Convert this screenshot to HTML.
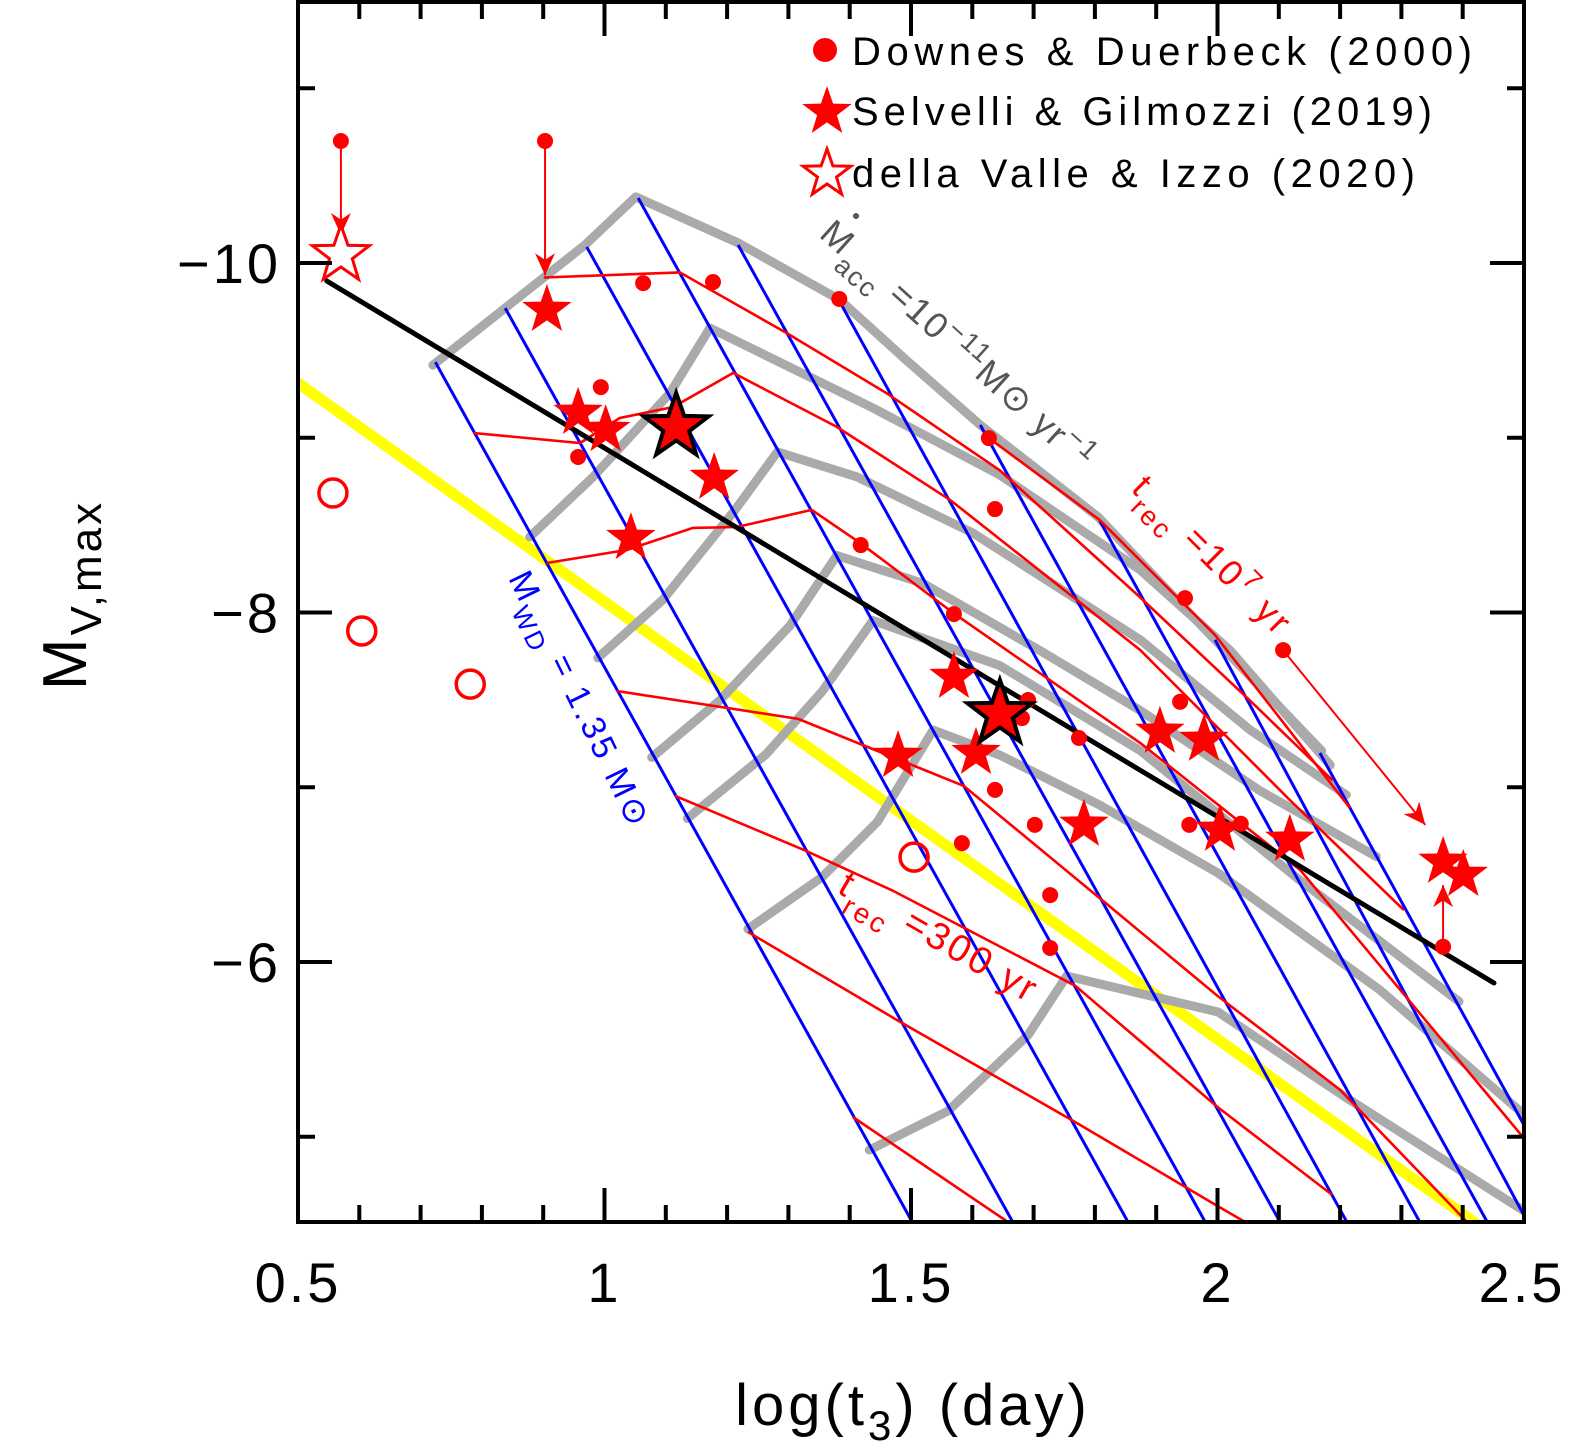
<!DOCTYPE html>
<html><head><meta charset="utf-8"><style>
body{margin:0;background:#fff}
svg{display:block;font-family:"Liberation Sans","DejaVu Sans",sans-serif}
</style></head><body>
<svg id="chart" width="1570" height="1448" viewBox="0 0 1570 1448" xmlns="http://www.w3.org/2000/svg">
<defs><clipPath id="plotclip"><rect x="298" y="2" width="1226" height="1220"/></clipPath></defs>
<rect width="1570" height="1448" fill="#fff"/>
<g id="grid" clip-path="url(#plotclip)"></g>
<g id="fits" clip-path="url(#plotclip)"></g>
<g id="marks"></g>
<g id="axes"></g>
<g id="labels">
  <text transform="translate(818,236) rotate(42)" font-size="36" letter-spacing="2" fill="#555">M<tspan font-size="27" dy="14">acc</tspan><tspan dy="-14"> =10</tspan><tspan font-size="27" dy="-14">−11</tspan><tspan dy="14">M⊙ yr</tspan><tspan font-size="27" dy="-14">−1</tspan></text>
  <circle cx="856" cy="216" r="3" fill="#555"/>
  <text transform="translate(1130,490) rotate(45)" font-size="36" letter-spacing="3" fill="#f00">t<tspan font-size="27" dy="14">rec</tspan><tspan dy="-14"> =10</tspan><tspan font-size="27" dy="-14">7</tspan><tspan dy="14"> yr</tspan></text>
  <text transform="translate(836,892) rotate(30)" font-size="38" letter-spacing="3" fill="#f00">t<tspan font-size="28" dy="15">rec</tspan><tspan dy="-15"> =300 yr</tspan></text>
  <text transform="translate(508,578) rotate(64)" font-size="34" letter-spacing="3" fill="#00f">M<tspan font-size="26" dy="12">WD</tspan><tspan dy="-12"> = 1.35 M⊙</tspan></text>
</g>
<g id="legend">
  <circle cx="825" cy="50" r="12" fill="#f00"/>
  <text x="852" y="65" font-size="40" textLength="620" lengthAdjust="spacing">Downes &amp; Duerbeck (2000)</text>
  <path id="legstar1" fill="#f00"/>
  <text x="852" y="125" font-size="40" textLength="580" lengthAdjust="spacing">Selvelli &amp; Gilmozzi (2019)</text>
  <path id="legstar2" fill="#fff" stroke="#f00" stroke-width="3"/>
  <text x="852" y="187" font-size="40" textLength="563" lengthAdjust="spacing">della Valle &amp; Izzo (2020)</text>
</g>
</svg>
<script>
// ---- data (log t3 [day], M_V,max) ----
const blueTop = [[0.724,-9.433],[0.838,-9.742],[0.971,-10.092],[1.055,-10.372],[1.218,-10.103],[1.384,-9.777],[1.613,-9.073],[1.808,-8.524],[1.996,-7.843],[2.167,-7.196]];
const blueBot = [[1.502,-4.512],[1.666,-4.512],[1.854,-4.512],[1.980,-4.512],[2.102,-4.512],[2.211,-4.512],[2.330,-4.512],[2.440,-4.512],[2.5,-4.55],[2.5,-5.067]];
const gray1 = [[0.720,-9.416],[0.834,-9.731],[0.968,-10.103],[1.051,-10.378],[1.218,-10.115],[1.384,-9.789],[1.492,-9.445],[1.613,-9.073],[1.805,-8.547],[1.918,-8.129],[2.170,-7.208]];
const gray2 = [[0.878,-8.432],[0.981,-8.775],[1.107,-9.256],[1.172,-9.628],[1.438,-9.170],[1.645,-8.787],[1.874,-8.243],[2.020,-7.785],[2.184,-7.127]];
const gray3 = [[0.989,-7.740],[1.095,-8.072],[1.213,-8.587],[1.282,-8.919],[1.412,-8.776],[1.601,-8.455],[1.874,-7.843],[2.053,-7.328],[2.210,-6.956]];
const gray4 = [[1.077,-7.170],[1.188,-7.497],[1.303,-7.926],[1.379,-8.326],[1.520,-8.166],[1.710,-7.783],[1.874,-7.439],[2.069,-6.981],[2.259,-6.603]];
const gray5 = [[1.135,-6.821],[1.263,-7.187],[1.355,-7.548],[1.438,-7.954],[1.645,-7.696],[1.874,-7.210],[2.135,-6.466],[2.394,-5.774]];
const gray6 = [[1.234,-6.189],[1.355,-6.486],[1.445,-6.801],[1.536,-7.327],[1.645,-7.184],[1.808,-6.898],[2.001,-6.509],[2.265,-5.840],[2.497,-5.136]];
const gray7 = [[1.432,-4.924],[1.560,-5.147],[1.691,-5.582],[1.754,-5.920],[2.001,-5.714],[2.216,-5.210],[2.505,-4.564]];
const red0 = [[1.627,-8.998],[1.808,-8.529],[1.996,-7.871],[2.216,-6.881]];
const red1 = [[0.901,-9.917],[1.123,-9.946],[1.298,-9.597],[1.461,-9.253],[1.645,-8.813],[1.874,-8.086],[2.053,-7.496],[2.188,-7.039]];
const red2 = [[0.786,-9.027],[0.960,-8.970],[1.025,-9.113],[1.112,-9.176],[1.210,-9.371],[1.379,-9.062],[1.564,-8.644],[1.874,-7.785],[2.118,-6.927],[2.304,-6.297]];
const red3 = [[0.906,-8.283],[1.037,-8.358],[1.144,-8.484],[1.216,-8.489],[1.338,-8.587],[1.417,-8.398],[1.569,-7.997],[1.874,-7.253],[2.135,-6.526],[2.505,-4.970]];
const red4 = [[1.020,-7.551],[1.316,-7.391],[1.586,-7.008],[1.813,-6.350],[2.000,-5.806],[2.200,-5.268],[2.407,-4.512]];
const red5 = [[1.115,-6.951],[1.329,-6.636],[1.471,-6.407],[1.768,-5.864],[2.000,-5.170],[2.187,-4.667]];
const red6 = [[1.234,-6.172],[1.477,-5.668],[1.768,-5.084],[2.000,-4.604],[2.045,-4.512]];
const red7 = [[1.405,-5.113],[1.658,-4.512]];
const fitLine = [[0.547,-9.897],[2.451,-5.880]];
const yellowLine = [[0.5,-9.313],[2.425,-4.495]];
const dotsX = [0.570,0.903,1.063,1.177,1.383,0.994,0.957,1.627,1.637,1.418,1.570,1.947,2.107,1.939,1.691,1.681,1.774,1.637,1.702,1.583,1.727,1.727,1.954,2.038,2.368];
const dotsY = [-10.698,-10.698,-9.885,-9.891,-9.794,-9.290,-8.890,-8.998,-8.592,-8.386,-7.991,-8.082,-7.785,-7.489,-7.499,-7.396,-7.282,-6.985,-6.785,-6.680,-6.383,-6.080,-6.785,-6.791,-6.087];
const starsX = [0.906,0.957,1.002,1.179,1.043,1.570,1.606,1.479,1.782,1.906,1.978,2.004,2.118,2.368,2.401];
const starsY = [-9.731,-9.142,-9.044,-8.770,-8.426,-7.631,-7.196,-7.179,-6.785,-7.317,-7.271,-6.756,-6.699,-6.573,-6.498];
const bigStarsX = [1.117,1.645];
const bigStarsY = [-9.062,-7.420];
const circlesX = [0.557,0.604,0.781,1.505];
const circlesY = [-8.684,-7.894,-7.590,-6.600];
const openStarX = [0.570];
const openStarY = [-10.046];
const arrowFrom = [[0.570,-10.698],[0.903,-10.698],[2.107,-7.785],[2.368,-6.087]];
const arrowTo = [[0.570,-10.16],[0.903,-9.93],[2.339,-6.785],[2.368,-6.44]];
const xTicks = [0.5,1,1.5,2,2.5];
const xTickLabels = ["0.5","1","1.5","2","2.5"];
const yTicks = [-10,-8,-6];
const yTickLabels = ["−10","−8","−6"];
const yMinor = [-11,-9,-7,-5];

// ---- axes ----
const L=298,R=1524,T=2,B=1222;
const X = v => L + (v-0.5)*613;
const Y = v => 263 + (v+10)*174.75;
const NS="http://www.w3.org/2000/svg";
function mk(tag, parent, attrs){const e=document.createElementNS(NS,tag);for(const k in attrs)e.setAttribute(k,attrs[k]);parent.appendChild(e);return e;}
const grid=document.getElementById('grid'), fits=document.getElementById('fits'), marks=document.getElementById('marks'), axes=document.getElementById('axes');
function pts(a){return a.map(p=>X(p[0]).toFixed(1)+','+Y(p[1]).toFixed(1)).join(' ');}

[gray1,gray2,gray3,gray4,gray5,gray6,gray7].forEach((g,i)=>{
  const e=mk('polyline',grid,{points:pts(g),fill:'none',stroke:'#aaa','stroke-width':9,'stroke-linejoin':'round','stroke-linecap':'round'});
  
  
});
fits.parentNode.insertBefore(fits, grid);
const yl=mk('polyline',fits,{points:pts(yellowLine),fill:'none',stroke:'#ff0','stroke-width':11,'stroke-linecap':'round'});


blueTop.forEach((p,i)=>{
  const e=mk('line',grid,{x1:X(p[0]),y1:Y(p[1]),x2:X(blueBot[i][0]),y2:Y(blueBot[i][1]),stroke:'#00f','stroke-width':3});
  
  
});
[red0,red1,red2,red3,red4,red5,red6,red7].forEach((g,i)=>{
  const e=mk('polyline',grid,{points:pts(g),fill:'none',stroke:'#f00','stroke-width':2.6});
  
  
});
const bl=mk('polyline',grid,{points:pts(fitLine),fill:'none',stroke:'#000','stroke-width':5,'stroke-linecap':'round'});



function starPath(cx,cy,R){let d='';for(let k=0;k<10;k++){const r=k%2?R*0.4:R;const a=-Math.PI/2+k*Math.PI/5;d+=(k?'L':'M')+(cx+r*Math.cos(a)).toFixed(1)+','+(cy+r*Math.sin(a)).toFixed(1);}return d+'Z';}
arrowFrom.forEach((p,i)=>{
  const x1=X(p[0]),y1=Y(p[1]),x2=X(arrowTo[i][0]),y2=Y(arrowTo[i][1]);
  const ln=mk('line',marks,{x1:x1,y1:y1,x2:x2,y2:y2,stroke:'#f00','stroke-width':2});
  
  
  const ang=Math.atan2(y2-y1,x2-x1),s=22,w=10;
  const bx=x2-s*Math.cos(ang),by=y2-s*Math.sin(ang),nx=-Math.sin(ang),ny=Math.cos(ang);
  const mx=x2-0.7*s*Math.cos(ang),my=y2-0.7*s*Math.sin(ang);
  const h=mk('path',marks,{d:`M${x2},${y2}L${bx+w*nx},${by+w*ny}L${mx},${my}L${bx-w*nx},${by-w*ny}Z`,fill:'#f00'});
  
  
});
dotsX.forEach((v,i)=>{
  const e=mk('circle',marks,{cx:X(v),cy:Y(dotsY[i]),r:8,fill:'#f00'});
  
  
});
circlesX.forEach((v,i)=>{
  const e=mk('circle',marks,{cx:X(v),cy:Y(circlesY[i]),r:14,fill:'none',stroke:'#f00','stroke-width':3.5});
  
  
});
starsX.forEach((v,i)=>{
  const e=mk('path',marks,{d:starPath(X(v),Y(starsY[i]),26),fill:'#f00'});
  
  
});
bigStarsX.forEach((v,i)=>{
  const e=mk('path',marks,{d:starPath(X(v),Y(bigStarsY[i]),34),fill:'#f00',stroke:'#000','stroke-width':4,'stroke-linejoin':'miter'});
  
  
});
openStarX.forEach((v,i)=>{
  const e=mk('path',marks,{d:starPath(X(v),Y(openStarY[i]),30),fill:'#fff',stroke:'#f00','stroke-width':3});
  
  
});
document.getElementById('legstar1').setAttribute('d',starPath(827,112,26));
document.getElementById('legstar2').setAttribute('d',starPath(827,174,25));

const fr=mk('rect',axes,{x:L,y:T,width:R-L,height:B-T,fill:'none',stroke:'#000','stroke-width':4});


for(let v=0.5;v<=2.501;v+=0.1){
  const major=Math.abs(v*2-Math.round(v*2))<1e-6, len=major?34:17, x=X(v);
  const t1=mk('line',axes,{x1:x,y1:B,x2:x,y2:B-len,stroke:'#000','stroke-width':4});
  
  
  const t2=mk('line',axes,{x1:x,y1:T,x2:x,y2:T+len,stroke:'#000','stroke-width':4});
  
  
}
xTicks.forEach((v,i)=>{
  const t=mk('text',axes,{x:X(v)+(i===4?-2:0),y:1302,'font-size':56,'letter-spacing':3,'text-anchor':'middle'});
  t.textContent=xTickLabels[i];
  
  
});
yTicks.concat(yMinor).forEach((v,i)=>{
  const len=i<yTicks.length?34:17,y=Y(v);
  const a=mk('line',axes,{x1:L,y1:y,x2:L+len,y2:y,stroke:'#000','stroke-width':4});
  
  
  const b=mk('line',axes,{x1:R,y1:y,x2:R-len,y2:y,stroke:'#000','stroke-width':4});
  
  
});
yTicks.forEach((v,i)=>{
  const t=mk('text',axes,{x:281,y:Y(v)+20,'font-size':56,'letter-spacing':3,'text-anchor':'end'});
  t.textContent=yTickLabels[i];
  
  
});
const xt=mk('text',axes,{x:913,y:1425,'font-size':58,'letter-spacing':4,'text-anchor':'middle'});
xt.innerHTML='log(t<tspan font-size="42" dy="15">3</tspan><tspan dy="-15">) (day)</tspan>';


const yt=mk('text',axes,{transform:'translate(86,595) rotate(-90)','font-size':62,'letter-spacing':3,'text-anchor':'middle'});
yt.innerHTML='M<tspan font-size="44" dy="15">V,max</tspan>';


</script>
</body></html>
